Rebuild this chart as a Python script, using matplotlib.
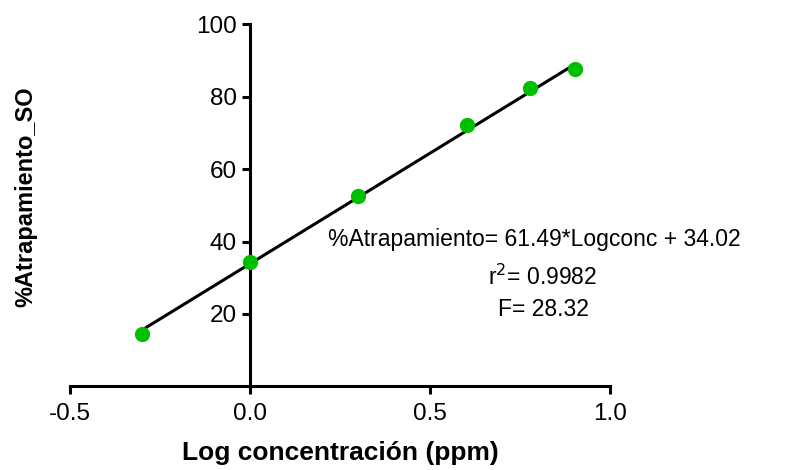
import matplotlib
matplotlib.use("Agg")
import matplotlib.pyplot as plt

plt.rcParams['font.family'] = ['Liberation Sans', 'DejaVu Sans']

# data
log_conc = [-0.301, 0.0, 0.301, 0.602, 0.778, 0.903]
atrap = [14.4, 34.4, 52.6, 72.2, 82.3, 87.6]

# fitted line end points
fit_x = [-0.301, 0.903]
fit_y = [15.5, 89.0]

x_ticks = [-0.5, 0.0, 0.5, 1.0]
x_tick_labels = ["-0.5", "0.0", "0.5", "1.0"]
y_ticks = [20, 40, 60, 80, 100]

fig = plt.figure(figsize=(8.01, 4.70), dpi=100)
ax = fig.add_axes([70 / 801, (470 - 386.4) / 470, 540 / 801, 362.1 / 470])

ax.plot(fit_x, fit_y, color="black", lw=2.2, zorder=2)
ax.plot(log_conc, atrap, "o", color="#00bf00", ms=11, mec="none", zorder=3)

ax.set_xlim(-0.5, 1.0)
ax.set_ylim(0, 100)

ax.spines["top"].set_visible(False)
ax.spines["right"].set_visible(False)
ax.spines["left"].set_position(("data", 0))
for s in ["left", "bottom"]:
    ax.spines[s].set_linewidth(2.2)

ax.set_xticks(x_ticks)
ax.set_xticklabels(x_tick_labels)
ax.set_yticks(y_ticks)
ax.tick_params(direction="out", length=6, width=2.2, labelsize=17.5)
ax.tick_params(axis="x", pad=6)

fig.text(340 / 801, 1 - 453 / 470, "Log concentración (ppm)", ha="center", va="center",
         fontsize=19, fontweight="bold")
fig.text(26 / 801, 1 - 197 / 470, "%Atrapamiento_SO", ha="center", va="center",
         rotation=90, fontsize=17, fontweight="bold")

fig.text(534 / 801, 1 - 240 / 470, "%Atrapamiento= 61.49*Logconc + 34.02",
         ha="center", va="center", fontsize=16.5)
fig.text(543 / 801, 1 - 277 / 470, r"r$^2$= 0.9982", ha="center", va="center", fontsize=16.5)
fig.text(543 / 801, 1 - 309 / 470, "F= 28.32", ha="center", va="center", fontsize=16.5)

fig.savefig("out.png", dpi=100)
